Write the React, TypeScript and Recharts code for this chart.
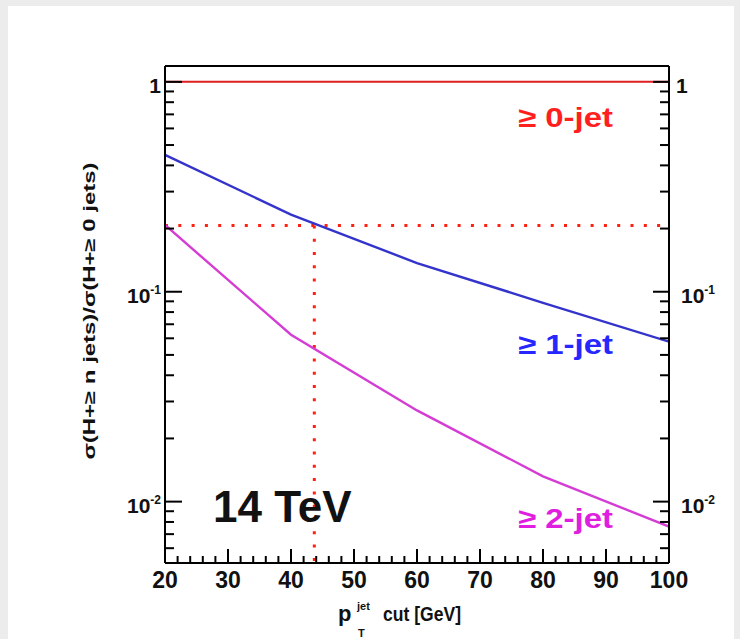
import React from "react";
import { LineChart, Line, XAxis, YAxis, ReferenceLine } from "recharts";

const ptCut = [20, 40, 60, 80, 100];
const geq0 = [1, 1, 1, 1, 1];
const geq1 = [0.449, 0.233, 0.137, 0.0886, 0.0578];
const geq2 = [0.208, 0.0624, 0.0272, 0.0132, 0.0076];

const xTicks = [20, 22, 24, 26, 28, 30, 32, 34, 36, 38, 40, 42, 44, 46, 48, 50, 52, 54, 56, 58, 60, 62, 64, 66, 68, 70, 72, 74, 76, 78, 80, 82, 84, 86, 88, 90, 92, 94, 96, 98, 100];
const xMajor = [20, 30, 40, 50, 60, 70, 80, 90, 100];
const yTicks = [0.006, 0.007, 0.008, 0.009, 0.01, 0.02, 0.03, 0.04, 0.05, 0.06, 0.07, 0.08, 0.09, 0.1, 0.2, 0.3, 0.4, 0.5, 0.6, 0.7, 0.8, 0.9, 1];
const yMajor = [
  { v: 1, base: "1", exp: "" },
  { v: 0.1, base: "10", exp: "-1" },
  { v: 0.01, base: "10", exp: "-2" },
];
const cutX = 43.7;
const cutY = 0.207;

const data = ptCut.map((x, i) => ({ x, zero: geq0[i], one: geq1[i], two: geq2[i] }));

const FONT = "'Liberation Sans', Arial, Helvetica, sans-serif";

const XTick = (props: any) => {
  const { x, y, payload } = props;
  const v = payload.value;
  const major = xMajor.includes(v);
  return (
    <g>
      <line x1={x} y1={y} x2={x} y2={y - (major ? 14 : 7)} stroke="#000" strokeWidth={2} />
      {major && (
        <text x={x} y={y + 25} textAnchor="middle" fontFamily={FONT} fontWeight="bold" fontSize={23} fill="#111">
          {v}
        </text>
      )}
    </g>
  );
};

const majorOf = (v: number) => yMajor.find((m) => Math.abs(m.v - v) < 1e-9);

const YTickLeft = (props: any) => {
  const { x, y, payload } = props;
  const m = majorOf(payload.value);
  return (
    <g>
      <line x1={x} y1={y} x2={x + (m ? 17 : 9)} y2={y} stroke="#000" strokeWidth={2} />
      {m && (
        <text x={x - 4} y={y + 11} textAnchor="end" fontFamily={FONT} fontWeight="bold" fontSize={21} fill="#111">
          {m.base}
          {m.exp && (
            <tspan fontSize={12} dy={-9}>
              {m.exp}
            </tspan>
          )}
        </text>
      )}
    </g>
  );
};

const YTickRight = (props: any) => {
  const { x, y, payload } = props;
  const m = majorOf(payload.value);
  return (
    <g>
      <line x1={x} y1={y} x2={x - (m ? 16 : 9)} y2={y} stroke="#000" strokeWidth={2} />
      {m && (
        <text x={x + (m.exp ? 12 : 7)} y={y + 11} textAnchor="start" fontFamily={FONT} fontWeight="bold" fontSize={21} fill="#111">
          {m.base}
          {m.exp && (
            <tspan fontSize={12} dy={-9}>
              {m.exp}
            </tspan>
          )}
        </text>
      )}
    </g>
  );
};

export default function App() {
  return (
    <div style={{ position: "absolute", left: 0, top: 0, width: 740, height: 639, background: "#ececec", overflow: "hidden" }}>
      <div style={{ position: "absolute", left: 8, top: 6, width: 726, height: 633, background: "#ffffff" }} />
      <div style={{ position: "absolute", left: 0, top: 0 }}>
        <LineChart width={740} height={639} data={data} margin={{ top: 0, right: 0, bottom: 0, left: 0 }}>
          <XAxis
            dataKey="x"
            type="number"
            domain={[20, 100]}
            ticks={xTicks}
            interval={0}
            height={76}
            tickSize={0}
            tickMargin={0}
            tickLine={false}
            axisLine={{ stroke: "#000", strokeWidth: 2 }}
            tick={XTick}
            allowDataOverflow
          />
          <XAxis
            xAxisId="top"
            orientation="top"
            dataKey="x"
            type="number"
            domain={[20, 100]}
            height={66}
            tick={false}
            tickLine={false}
            axisLine={{ stroke: "#000", strokeWidth: 2 }}
          />
          <YAxis
            yAxisId="left"
            scale="log"
            type="number"
            domain={[0.0051, 1.19]}
            ticks={yTicks}
            interval={0}
            width={165}
            tickSize={0}
            tickMargin={0}
            tickLine={false}
            axisLine={{ stroke: "#000", strokeWidth: 2 }}
            tick={YTickLeft}
            allowDataOverflow
          />
          <YAxis
            yAxisId="right"
            orientation="right"
            scale="log"
            type="number"
            domain={[0.0051, 1.19]}
            ticks={yTicks}
            interval={0}
            width={71}
            tickSize={0}
            tickMargin={0}
            tickLine={false}
            axisLine={{ stroke: "#000", strokeWidth: 2 }}
            tick={YTickRight}
            allowDataOverflow
          />
          <ReferenceLine
            yAxisId="left"
            segment={[{ x: 20, y: cutY }, { x: 100, y: cutY }]}
            stroke="#ff2010"
            strokeWidth={3}
            strokeDasharray="3 10.3"
          />
          <ReferenceLine
            yAxisId="left"
            segment={[{ x: cutX, y: cutY }, { x: cutX, y: 0.0051 }]}
            stroke="#ff2010"
            strokeWidth={3}
            strokeDasharray="3 10.3"
          />
          <Line yAxisId="left" dataKey="zero" stroke="#dd1f1f" strokeWidth={2} dot={false} isAnimationActive={false} />
          <Line yAxisId="left" dataKey="one" stroke="#3434cc" strokeWidth={2.4} dot={false} isAnimationActive={false} />
          <Line yAxisId="left" dataKey="two" stroke="#d43cd4" strokeWidth={2.4} dot={false} isAnimationActive={false} />
        </LineChart>
      </div>
      <svg width={740} height={639} style={{ position: "absolute", left: 0, top: 0, pointerEvents: "none" }}>
        <text x={518} y={127} fontFamily={FONT} fontWeight="bold" fontSize={28} fill="#ff1f1f" textLength={95} lengthAdjust="spacingAndGlyphs">
          ≥ 0-jet
        </text>
        <text x={518} y={354} fontFamily={FONT} fontWeight="bold" fontSize={28} fill="#2626ff" textLength={95} lengthAdjust="spacingAndGlyphs">
          ≥ 1-jet
        </text>
        <text x={518} y={528} fontFamily={FONT} fontWeight="bold" fontSize={28} fill="#e01ee0" textLength={95} lengthAdjust="spacingAndGlyphs">
          ≥ 2-jet
        </text>
        <text x={213} y={522} fontFamily={FONT} fontWeight="bold" fontSize={44} fill="#111">
          14 TeV
        </text>
        <text
          x={95}
          y={311}
          transform="rotate(-90 95 311)"
          textAnchor="middle"
          fontFamily={FONT}
          fontWeight="bold"
          fontSize={16}
          fill="#111"
          textLength={297}
          lengthAdjust="spacingAndGlyphs"
        >
          σ(H+≥ n jets)/σ(H+≥ 0 jets)
        </text>
        <text x={338} y={621} fontFamily={FONT} fontWeight="bold" fontSize={22} fill="#111">
          p
        </text>
        <text x={357} y={610} fontFamily={FONT} fontWeight="bold" fontSize={11} fill="#111">
          jet
        </text>
        <text x={358} y={637} fontFamily={FONT} fontWeight="bold" fontSize={11} fill="#111">
          T
        </text>
        <text x={383} y={621} fontFamily={FONT} fontWeight="bold" fontSize={20} fill="#111" textLength={78} lengthAdjust="spacingAndGlyphs">
          cut [GeV]
        </text>
      </svg>
    </div>
  );
}
